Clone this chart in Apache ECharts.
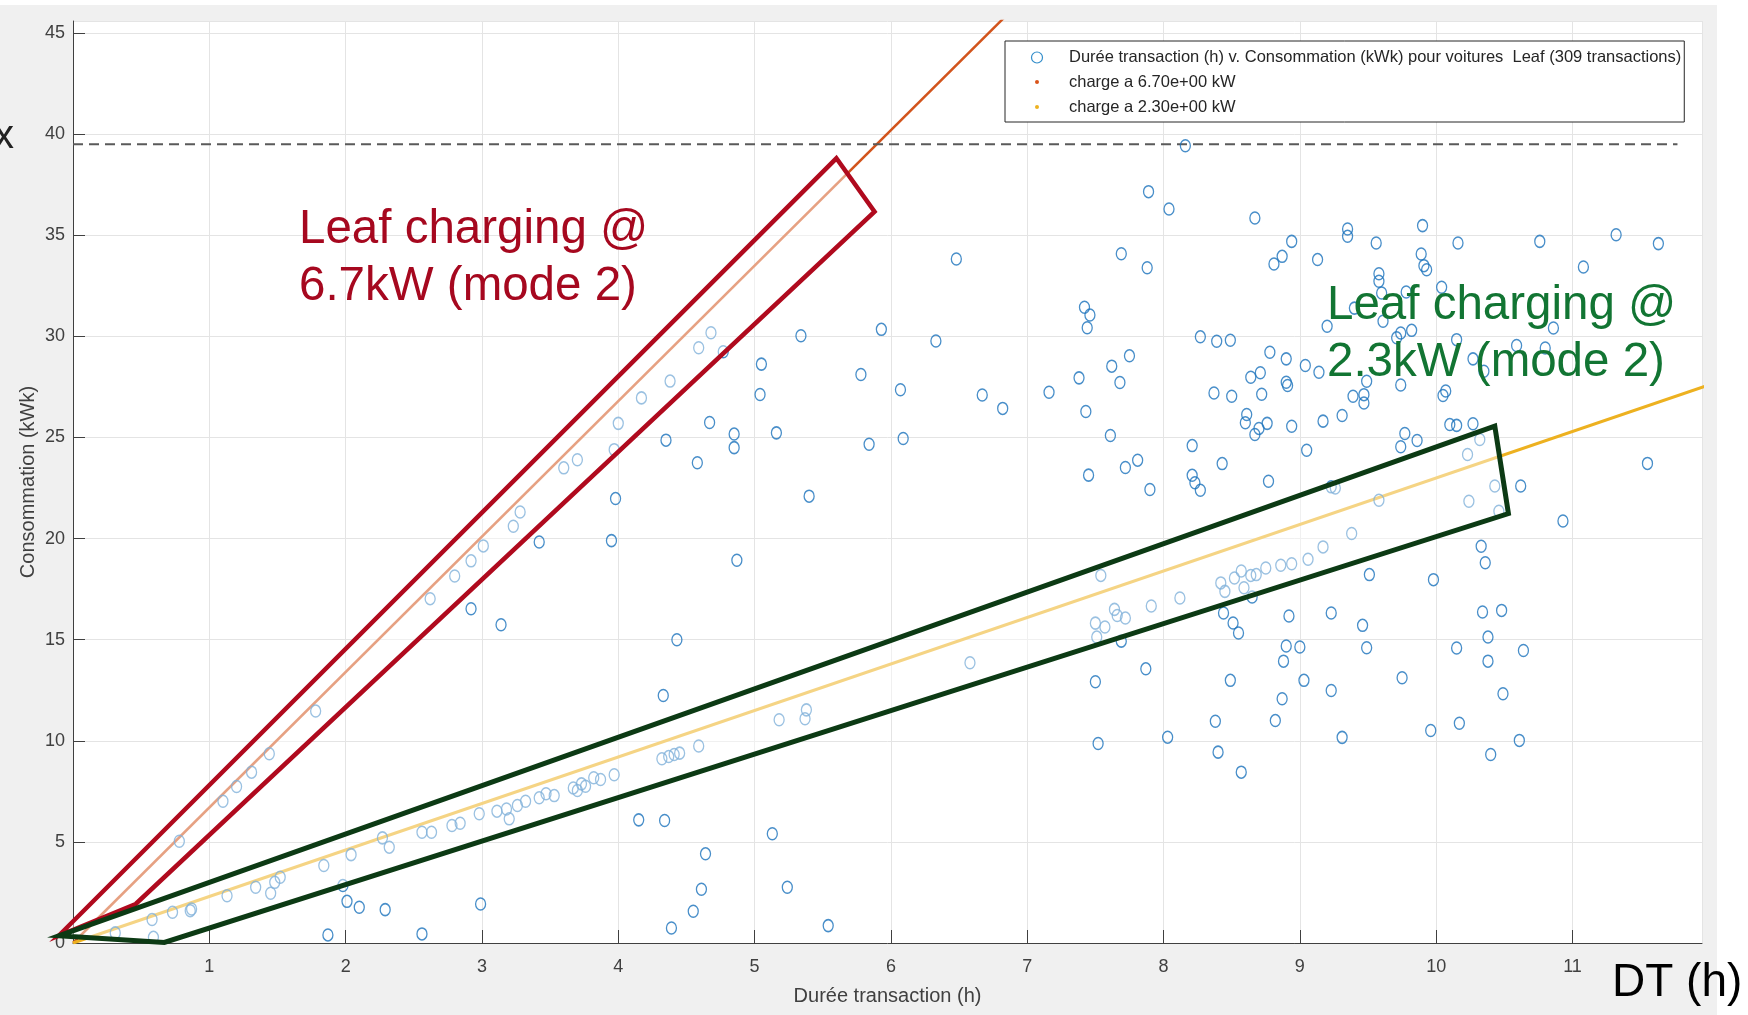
<!DOCTYPE html>
<html><head><meta charset="utf-8">
<script src="https://cdn.jsdelivr.net/npm/echarts@6/dist/echarts.min.js"></script>
<style>html,body{margin:0;padding:0;background:#fff}#c{width:1748px;height:1015px}</style>
</head><body><div id="c"></div>
<script>
// Durée transaction (h), Consommation (kWh)
const transactions = [
[3.60,23.5],[3.70,23.9],[3.97,24.4],[4.00,25.7],
[7.89,37.16],[8.04,36.3],[6.48,33.83],[7.69,34.09],[7.88,33.4],[7.42,31.44],[7.46,31.06],[7.44,30.43],
[5.93,30.35],[5.34,30.03],[6.33,29.77],[4.68,30.18],[4.59,29.44],[4.77,29.24],[5.05,28.63],[7.75,29.04],
[7.62,28.53],[7.38,27.95],[7.68,27.72],[5.78,28.12],[4.38,27.79],[4.17,26.96],[5.04,27.13],[6.07,27.36],
[6.67,27.10],[6.82,26.44],[7.16,27.24],[7.43,26.29],[4.67,25.74],[4.35,24.87],[4.85,25.17],[4.85,24.5],
[5.16,25.23],[4.58,23.75],[5.84,24.67],[6.09,24.95],[7.61,25.1],[7.81,23.88],[7.72,23.52],[7.45,23.14],
[7.90,22.43],[5.40,22.1],
[8.16,39.43],[8.67,35.86],[8.94,34.7],[8.87,33.96],[8.81,33.58],[9.13,33.8],[9.35,35.31],[9.35,34.95],
[9.56,34.62],[9.90,35.48],[9.89,34.08],[9.91,33.5],[9.93,33.3],[10.16,34.62],[10.76,34.7],[11.32,35.03],
[11.63,34.59],[11.08,33.43],[9.58,33.1],[9.58,32.73],[9.60,32.15],[9.78,32.2],[10.04,32.43],[9.61,30.75],
[9.20,30.5],[9.40,31.4],[8.27,29.98],[8.39,29.76],[8.49,29.81],[8.78,29.22],[8.90,28.89],[9.04,28.56],
[9.14,28.23],[8.71,28.2],[8.64,27.98],[8.90,27.73],[8.91,27.57],[8.37,27.2],[8.50,27.04],[8.72,27.14],
[8.61,26.14],[8.60,25.73],[8.76,25.7],[8.70,25.45],[8.67,25.15],[8.94,25.56],[9.17,25.81],[9.31,26.09],
[9.39,27.04],[9.47,27.12],[9.47,26.71],[9.49,27.78],[9.71,29.93],[9.74,30.17],[9.82,30.3],[9.74,27.6],
[10.05,27.08],[10.07,27.3],[10.15,29.84],[10.59,29.55],[10.80,29.43],[10.86,30.42],[10.27,28.89],[10.35,28.28],
[8.21,24.6],[8.43,23.71],[8.77,22.84],[8.21,23.13],[8.23,22.76],[9.05,24.37],[9.77,25.2],[9.74,24.54],
[9.86,24.85],[10.10,25.64],[10.15,25.6],[10.27,25.68],[10.32,24.9],[10.23,24.16],[10.43,22.6],[10.62,22.6],
[11.55,23.72],[9.26,22.5],
[3.28,21.32],[3.23,20.61],[3.01,19.64],[3.42,19.83],[3.95,19.9],[3.98,21.98],[2.92,18.9],[2.80,18.15],
[2.62,17.03],[2.92,16.53],[3.14,15.74],[1.78,11.47],[1.44,9.36],[1.31,8.45],[1.20,7.74],[1.10,7.01],[0.78,5.03],
[3.97,8.32],[3.87,8.09],[3.82,8.17],[3.73,7.87],[3.67,7.67],[3.70,7.54],[3.76,7.75],[3.53,7.29],[3.47,7.38],
[3.42,7.18],[3.32,7.01],[3.26,6.8],[3.18,6.63],[3.11,6.52],[3.20,6.14],[2.98,6.39],[2.84,5.92],[2.78,5.81],
[2.63,5.48],[2.56,5.48],[2.27,5.2],[2.32,4.74],[2.04,4.37],[1.84,3.83],[1.34,2.76],[1.52,3.25],[1.48,3.0],
[1.45,2.46],[1.13,2.34],[0.87,1.68],[0.86,1.6],[0.73,1.52],[0.58,1.16],[0.31,0.5],[0.59,0.28],[1.98,2.84],
[2.01,2.06],[2.10,1.77],[2.29,1.65],[2.99,1.93],[1.87,0.4],[2.56,0.45],
[4.87,18.93],[4.43,15.0],[4.33,12.24],[7.54,18.18],[7.91,16.67],[7.64,16.5],[7.66,16.2],[7.72,16.07],
[7.50,15.82],[7.57,15.63],[7.51,15.13],[7.69,14.93],[6.58,13.86],[7.87,13.56],[7.50,12.92],[7.52,9.87],
[8.03,10.18],[5.18,11.04],[5.38,11.53],[5.37,11.09],[4.59,9.74],[4.45,9.39],[4.41,9.32],[4.37,9.22],
[4.32,9.11],[4.15,6.09],[4.34,6.06],[5.13,5.4],[4.64,4.41],[4.61,2.66],[4.55,1.57],[5.24,2.76],[4.39,0.74],[5.54,0.86],
[8.27,22.39],[9.23,22.56],[9.58,21.9],[10.24,21.85],[10.46,21.35],[10.93,20.87],[9.38,20.25],[9.17,19.59],
[9.06,18.98],[8.94,18.76],[8.86,18.68],[8.75,18.55],[8.68,18.22],[8.64,18.18],[8.57,18.4],[8.52,18.05],
[8.42,17.81],[8.45,17.39],[8.59,17.57],[8.65,17.11],[8.12,17.06],[8.44,16.32],[8.51,15.83],[8.55,15.33],
[8.92,16.17],[9.23,16.32],[9.46,15.71],[9.51,18.22],[9.98,17.97],[10.33,19.62],[10.36,18.81],[10.34,16.37],
[10.48,16.45],[10.38,15.13],[10.64,14.47],[10.38,13.94],[10.15,14.59],[9.49,14.6],[8.90,14.69],[9.00,14.64],
[8.88,13.94],[8.49,12.99],[9.03,12.99],[9.75,13.12],[9.23,12.49],[8.87,12.08],[10.49,12.33],[8.38,10.97],
[8.82,11.0],[10.17,10.87],[9.96,10.51],[9.31,10.17],[10.61,10.02],[8.40,9.44],[10.40,9.32],[8.57,8.45]
];
// Reference charge lines (endpoints at x = 0 and x = 12 h)
const charge67 = [[0,0],[12,80.4]];
const charge23 = [[0,0],[12,27.6]];
// Dashed capacity line
const capacityLine = [[0,39.5],[11.77,39.5]];
// Annotation outlines (data coordinates)
const redBox = [[-0.105,0.36],[5.60,38.81],[5.88,36.17],[0.46,1.93]];
const greenBox = [[-0.10,0.36],[10.43,25.56],[10.53,21.24],[0.67,0.03]];
const legendNames = [
  'Durée transaction (h) v. Consommation (kWk) pour voitures  Leaf (309 transactions)',
  'charge a 6.70e+00 kW',
  'charge a 2.30e+00 kW'
];
const xLabelTicks = [1,2,3,4,5,6,7,8,9,10,11];

const FONT = '"Liberation Sans", Arial, Helvetica, sans-serif';
const chart = echarts.init(document.getElementById('c'), null, {renderer:'canvas'});

function boxRenderer(pts, color, width) {
  return function (params, api) {
    if (params.dataIndex !== 0) return null;
    const points = pts.map(p => api.coord(p));
    return {
      type: 'polygon',
      shape: { points: points },
      style: { fill: 'rgba(255,255,255,0.45)', stroke: color, lineWidth: width, lineJoin: 'miter' }
    };
  };
}

chart.setOption({
  animation: false,
  backgroundColor: '#ffffff',
  grid: { left: 73, top: 21, width: 1629, height: 922, show: true, backgroundColor: '#ffffff', borderWidth: 0 },
  xAxis: {
    type: 'value', min: 0, max: 11.95, interval: 1,
    name: 'Durée transaction (h)', nameLocation: 'middle', nameGap: 43,
    nameTextStyle: { fontFamily: FONT, fontSize: 20, color: '#404040' },
    axisLine: { show: true, lineStyle: { color: '#404040', width: 1 } },
    axisTick: { show: true, inside: true, length: 13, lineStyle: { color: '#404040' } },
    axisLabel: { fontFamily: FONT, fontSize: 18, color: '#404040', margin: 15, showMaxLabel: false,
      formatter: v => xLabelTicks.indexOf(v) >= 0 ? String(v) : '' },
    splitLine: { show: true, lineStyle: { color: '#e4e4e4', width: 1 } }
  },
  yAxis: {
    type: 'value', min: 0, max: 45.6, interval: 5,
    name: 'Consommation (kWk)', nameLocation: 'middle', nameGap: 35, nameRotate: 90, nameMoveOverlap: false,
    nameTextStyle: { fontFamily: FONT, fontSize: 20, color: '#404040' },
    axisLine: { show: true, lineStyle: { color: '#404040', width: 1 } },
    axisTick: { show: true, inside: true, length: 12, lineStyle: { color: '#404040' } },
    axisLabel: { fontFamily: FONT, fontSize: 18, color: '#404040', margin: 8, showMaxLabel: false },
    splitLine: { show: true, lineStyle: { color: '#e4e4e4', width: 1 } }
  },
  legend: {
    left: 1005, top: 41, orient: 'vertical', selectedMode: false,
    padding: [8, 3, 6, 23], itemWidth: 54, itemHeight: 11, itemGap: 7,
    borderColor: '#262626', borderWidth: 1, backgroundColor: '#ffffff',
    textStyle: { fontFamily: FONT, fontSize: 16.5, color: '#262626', lineHeight: 14 },
    data: [
      { name: legendNames[0], icon: 'circle', itemStyle: { color: 'rgba(0,0,0,0)', borderColor: '#0072BD', borderWidth: 1.2 } },
      { name: legendNames[1], icon: 'circle', itemStyle: { color: '#D95319', borderColor: '#ffffff', borderWidth: 7 } },
      { name: legendNames[2], icon: 'circle', itemStyle: { color: '#EDB120', borderColor: '#ffffff', borderWidth: 7 } }
    ]
  },
  series: [
    {
      name: legendNames[0], type: 'scatter', data: transactions, silent: true, z: 2,
      symbol: 'circle', symbolSize: [10, 12],
      itemStyle: { color: 'rgba(0,0,0,0)', borderColor: '#1a72bb', borderWidth: 1.4 }
    },
    {
      name: legendNames[1], type: 'line', data: charge67, silent: true, z: 2,
      symbol: 'none', lineStyle: { color: '#D2541C', width: 2.5 }
    },
    {
      name: legendNames[2], type: 'line', data: charge23, silent: true, z: 2,
      symbol: 'none', lineStyle: { color: '#EDB120', width: 3 }
    },
    {
      name: 'capacity', type: 'line', data: capacityLine, silent: true, z: 2,
      symbol: 'none', lineStyle: { color: '#5a5a5a', width: 2, type: [10, 6] }
    },
    {
      name: 'boxRed', type: 'custom', coordinateSystem: 'cartesian2d', data: redBox, silent: true, z: 3, clip: false,
      renderItem: boxRenderer(redBox, '#B00A1E', 4.5)
    },
    {
      name: 'boxGreen', type: 'custom', coordinateSystem: 'cartesian2d', data: greenBox, silent: true, z: 3, clip: false,
      renderItem: boxRenderer(greenBox, '#0C3A14', 5)
    }
  ],
  graphic: [
    { type: 'rect', z: -100, silent: true, shape: { x: 0, y: 5, width: 1717, height: 1010 }, style: { fill: '#f0f0f0' } },
    { type: 'text', z: 10, left: 299, top: 201, silent: true,
      style: { text: 'Leaf charging @\n6.7kW (mode 2)', fill: '#A6081F', font: '47.5px ' + FONT, lineHeight: 57 } },
    { type: 'text', z: 10, left: 1327, top: 277, silent: true,
      style: { text: 'Leaf charging @\n2.3kW (mode 2)', fill: '#127533', font: '47.5px ' + FONT, lineHeight: 57 } },
    { type: 'text', z: 10, left: 1612, top: 960, silent: true,
      style: { text: 'DT (h)', fill: '#000000', font: '46px ' + FONT } },
    { type: 'text', z: 10, left: -6, top: 117, silent: true,
      style: { text: 'x', fill: '#222222', font: '40px ' + FONT } }
  ]
});
</script></body></html>
